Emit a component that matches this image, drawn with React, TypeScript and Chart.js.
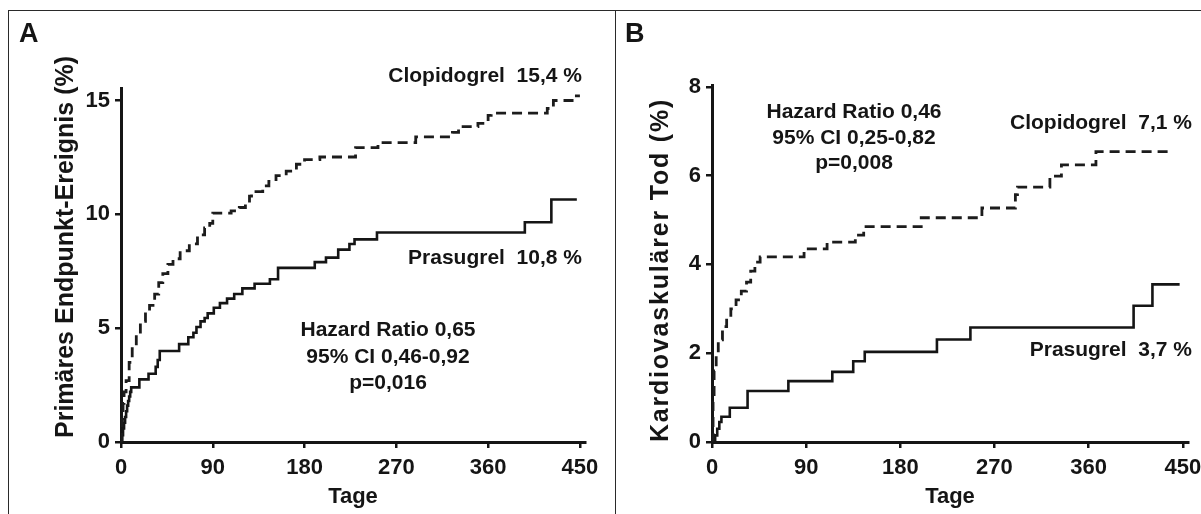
import React, { useEffect, useRef } from "react";
import { Chart, registerables } from "chart.js";

Chart.register(...registerables);

// ---------- data ----------
const xTickValues = [0, 90, 180, 270, 360, 450];
const yTickValuesA = [0, 5, 10, 15];
const yTickValuesB = [0, 2, 4, 6, 8];

// Panel A – primary endpoint (%)
const clopiDaysA = [0, 1, 2, 3, 5, 8, 11, 15, 19, 24, 28, 33, 37, 41, 46, 51, 58, 67, 75, 82, 87, 90, 108, 116, 122, 126, 128, 139, 145, 152, 162, 172, 180, 195, 230, 252, 289, 325, 331, 350, 360, 363, 418, 424, 445, 450];
const clopiValsA = [0, 1.0, 1.7, 2.2, 2.7, 3.5, 4.1, 4.7, 5.3, 5.7, 6.0, 6.5, 7.0, 7.4, 7.8, 8.05, 8.4, 8.7, 9.1, 9.4, 9.6, 10.05, 10.15, 10.3, 10.5, 10.8, 11.0, 11.25, 11.45, 11.7, 11.9, 12.2, 12.4, 12.52, 12.93, 13.15, 13.4, 13.6, 13.85, 14.0, 14.35, 14.45, 14.65, 15.0, 15.2, 15.2];
const prasuDaysA = [0, 1, 2, 3, 4, 5, 6, 7, 8, 9, 10, 18, 27, 34, 36, 38, 57, 66, 71, 74, 78, 82, 85, 91, 97, 104, 111, 119, 131, 146, 154, 190, 201, 213, 224, 229, 251, 396, 422, 447];
const prasuValsA = [0, 0.3, 0.6, 0.85, 1.1, 1.35, 1.6, 1.8, 2.0, 2.2, 2.4, 2.75, 3.0, 3.3, 3.6, 4.0, 4.3, 4.6, 4.8, 5.05, 5.3, 5.45, 5.65, 5.9, 6.1, 6.3, 6.5, 6.75, 6.95, 7.15, 7.65, 7.9, 8.1, 8.45, 8.7, 8.9, 9.2, 9.65, 10.65, 10.65];

// Panel B – cardiovascular death (%)
const clopiDaysB = [0, 1, 2, 4, 6, 10, 14, 18, 23, 28, 33, 37, 41, 46, 88, 110, 137, 145, 200, 258, 290, 292, 323, 334, 367, 441];
const clopiValsB = [0, 0.9, 1.6, 2.0, 2.3, 2.6, 2.8, 3.0, 3.2, 3.4, 3.6, 3.85, 4.05, 4.17, 4.35, 4.5, 4.66, 4.85, 5.05, 5.27, 5.57, 5.74, 5.99, 6.24, 6.54, 6.54];
const prasuDaysB = [0, 3, 5, 7, 9, 17, 34, 73, 115, 135, 146, 215, 247, 403, 421, 447];
const prasuValsB = [0, 0.15, 0.3, 0.45, 0.57, 0.77, 1.15, 1.37, 1.58, 1.82, 2.03, 2.31, 2.58, 3.07, 3.55, 3.55];

// texts
const panelLetters = ["A", "B"];
const yTitles = ["Primäres Endpunkt-Ereignis (%)", "Kardiovaskulärer Tod (%)"];
const xTitle = "Tage";
const clopiLabels = ["Clopidogrel  15,4 %", "Clopidogrel  7,1 %"];
const prasuLabels = ["Prasugrel  10,8 %", "Prasugrel  3,7 %"];
const statsA = ["Hazard Ratio 0,65", "95% CI 0,46-0,92", "p=0,016"];
const statsB = ["Hazard Ratio 0,46", "95% CI 0,25-0,82", "p=0,008"];

// ---------- styling ----------
const FONT = '"Liberation Sans", Arial, Helvetica, sans-serif';
const INK = "#151515";

type Note = { text: string; x: number; y: number; align: CanvasTextAlign; size: number; rot?: boolean; base?: CanvasTextBaseline; spacing?: number };

function toPoints(days: number[], vals: number[]) {
  return days.map((d, i) => ({ x: d, y: vals[i] }));
}

function notesPlugin(notes: Note[]) {
  return {
    id: "notes",
    afterDraw(chart: any) {
      const ctx: any = chart.ctx;
      ctx.save();
      ctx.fillStyle = INK;
      for (const n of notes) {
        ctx.font = `bold ${n.size}px ${FONT}`;
        ctx.textAlign = n.align;
        ctx.textBaseline = n.base || "middle";
        if ("letterSpacing" in ctx) ctx.letterSpacing = `${n.spacing || 0}px`;
        if (n.rot) {
          ctx.save();
          ctx.translate(n.x, n.y);
          ctx.rotate(-Math.PI / 2);
          ctx.fillText(n.text, 0, 0);
          ctx.restore();
        } else {
          ctx.fillText(n.text, n.x, n.y);
        }
      }
      if ("letterSpacing" in ctx) ctx.letterSpacing = "0px";
      ctx.restore();
    },
  };
}

type PanelSpec = {
  clDays: number[];
  clVals: number[];
  prDays: number[];
  prVals: number[];
  yTicks: number[];
  yMax: number;
  padT: number;
  padR: number;
  yW: number;
  xH: number;
  notes: Note[];
};

function buildConfig(p: PanelSpec): any {
  const tickFont = { family: FONT, size: 22, weight: "bold" as const };
  return {
    type: "line",
    data: {
      datasets: [
        {
          label: "Clopidogrel",
          data: toPoints(p.clDays, p.clVals),
          stepped: true,
          borderColor: "#1c1c1c",
          borderWidth: 2.8,
          borderDash: [10, 6],
          pointRadius: 0,
          fill: false,
        },
        {
          label: "Prasugrel",
          data: toPoints(p.prDays, p.prVals),
          stepped: true,
          borderColor: INK,
          borderWidth: 2.6,
          pointRadius: 0,
          fill: false,
        },
      ],
    },
    options: {
      responsive: false,
      animation: false,
      events: [],
      layout: { padding: { left: 0, top: p.padT, right: p.padR, bottom: 0 } },
      plugins: { legend: { display: false }, tooltip: { enabled: false }, title: { display: false } },
      scales: {
        x: {
          type: "linear",
          min: 0,
          max: 455,
          afterBuildTicks: (s: any) => {
            s.ticks = xTickValues.map((v) => ({ value: v }));
          },
          afterFit: (s: any) => {
            s.height = p.xH;
          },
          grid: { drawOnChartArea: false, drawTicks: true, tickLength: 6, color: INK, lineWidth: 2.5 },
          border: { display: true, color: INK, width: 3 },
          ticks: { color: INK, font: tickFont, padding: 7, maxRotation: 0, autoSkip: false },
          title: { display: true, text: xTitle, color: INK, font: tickFont, padding: { top: 0, bottom: 4 } },
        },
        y: {
          type: "linear",
          min: 0,
          max: p.yMax,
          afterBuildTicks: (s: any) => {
            s.ticks = p.yTicks.map((v) => ({ value: v }));
          },
          afterFit: (s: any) => {
            s.width = p.yW;
          },
          grid: { drawOnChartArea: false, drawTicks: true, tickLength: 6, color: INK, lineWidth: 2.5 },
          border: { display: true, color: INK, width: 3 },
          ticks: { color: INK, font: tickFont, padding: 5, autoSkip: false },
        },
      },
    },
    plugins: [notesPlugin(p.notes)],
  };
}

function Panel(props: { spec: PanelSpec; left: number; top: number; width: number; height: number }) {
  const ref = useRef<HTMLCanvasElement | null>(null);
  useEffect(() => {
    if (!ref.current) return;
    const chart = new Chart(ref.current, buildConfig(props.spec));
    return () => chart.destroy();
  }, []);
  return (
    <canvas
      ref={ref}
      width={props.width}
      height={props.height}
      style={{ position: "absolute", left: props.left, top: props.top, width: props.width, height: props.height }}
    />
  );
}

const specA: PanelSpec = {
  clDays: clopiDaysA,
  clVals: clopiValsA,
  prDays: prasuDaysA,
  prVals: prasuValsA,
  yTicks: yTickValuesA,
  yMax: 15.55,
  padT: 76,
  padR: 30,
  yW: 112,
  xH: 72,
  notes: [
    { text: panelLetters[0], x: 10, y: 30, align: "left", size: 27, base: "alphabetic" },
    { text: yTitles[0], x: 57, y: 235, align: "center", size: 25, rot: true },
    { text: clopiLabels[0], x: 573, y: 64, align: "right", size: 21 },
    { text: prasuLabels[0], x: 573, y: 246, align: "right", size: 21 },
    { text: statsA[0], x: 379, y: 318, align: "center", size: 21 },
    { text: statsA[1], x: 379, y: 345, align: "center", size: 21 },
    { text: statsA[2], x: 379, y: 371, align: "center", size: 21 },
  ],
};

const specB: PanelSpec = {
  clDays: clopiDaysB,
  clVals: clopiValsB,
  prDays: prasuDaysB,
  prVals: prasuValsB,
  yTicks: yTickValuesB,
  yMax: 8.04,
  padT: 73,
  padR: 30,
  yW: 94,
  xH: 72,
  notes: [
    { text: panelLetters[1], x: 7, y: 30, align: "left", size: 27, base: "alphabetic" },
    { text: yTitles[1], x: 43, y: 258, align: "center", size: 25, rot: true, spacing: 1.8 },
    { text: clopiLabels[1], x: 574, y: 111, align: "right", size: 21 },
    { text: prasuLabels[1], x: 574, y: 338, align: "right", size: 21 },
    { text: statsB[0], x: 236, y: 100, align: "center", size: 21 },
    { text: statsB[1], x: 236, y: 126, align: "center", size: 21 },
    { text: statsB[2], x: 236, y: 151, align: "center", size: 21 },
  ],
};

export default function App() {
  const line = "#2a2a2a";
  return (
    <div style={{ position: "absolute", left: 0, top: 0, width: 1201, height: 514, overflow: "hidden", background: "#fff" }}>
      <div style={{ position: "absolute", left: 8, top: 10, width: 1193, height: 0, borderTop: `1.5px solid ${line}` }} />
      <div style={{ position: "absolute", left: 8, top: 10, width: 0, height: 504, borderLeft: `1.5px solid ${line}` }} />
      <div style={{ position: "absolute", left: 615, top: 10, width: 0, height: 504, borderLeft: `1.5px solid ${line}` }} />
      <Panel spec={specA} left={9} top={12} width={606} height={502} />
      <Panel spec={specB} left={618} top={12} width={600} height={502} />
    </div>
  );
}
